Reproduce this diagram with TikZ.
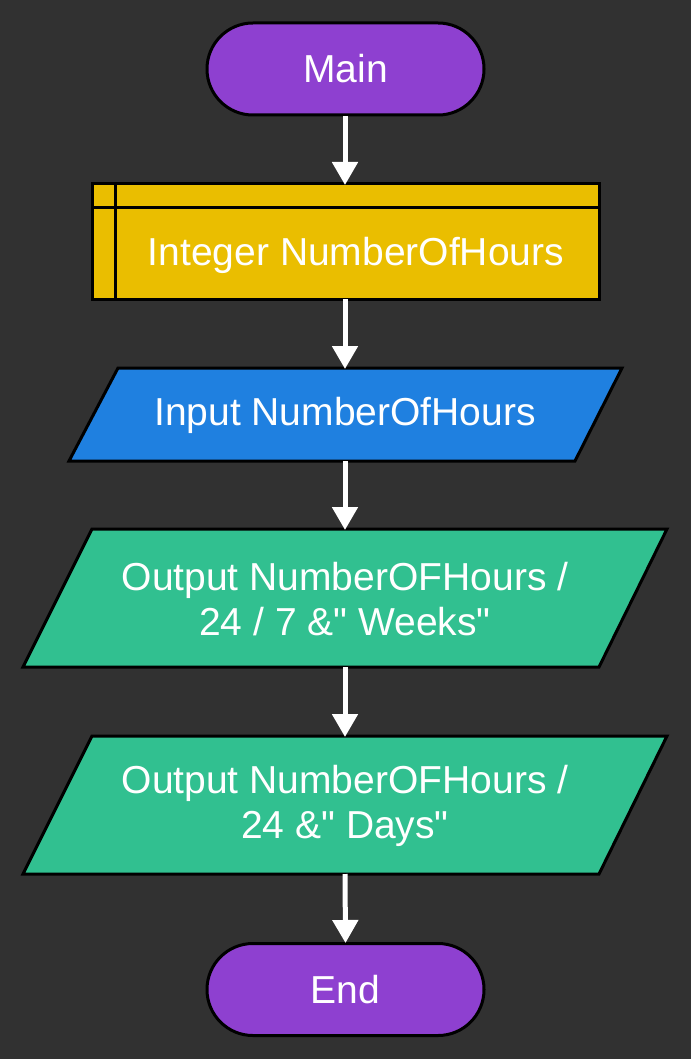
\documentclass[tikz,border=0pt]{standalone}
\usepackage{fontspec}
\setmainfont{Liberation Sans}[Ligatures=TeXOff]
\usetikzlibrary{arrows.meta}
\definecolor{bgc}{RGB}{49,49,49}
\definecolor{termc}{RGB}{142,64,208}
\definecolor{declc}{RGB}{234,190,0}
\definecolor{inc}{RGB}{31,128,224}
\definecolor{outc}{RGB}{49,192,144}
\begin{document}
\begin{tikzpicture}[x=1pt,y=-1pt,
  shapeline/.style={draw=black,line width=3pt,line join=miter},
  txt/.style={text=white,font=\fontsize{39}{45}\selectfont,align=center,inner sep=0pt},
  term/.style={shapeline,txt,fill=termc,minimum width=277pt,minimum height=92pt,rounded corners=45.9pt},
  box/.style={inner sep=0pt,outer sep=0pt},
  flow/.style={draw=white,line width=5pt,-{Triangle[width=25pt,length=23pt]},shorten >=-1pt}]
\useasboundingbox (0,0) rectangle (691,1059);
\fill[bgc] (0,0) rectangle (691,1059);
% Main
\node[term] (main) at (345.5,69) {Main};
% Declaration
\node[box,shapeline,fill=declc,minimum width=507pt,minimum height=115pt] (decl) at (345.5,241.5) {};
\draw[shapeline] ([xshift=23pt]decl.north west) -- ([xshift=23pt]decl.south west);
\draw[shapeline] ([yshift=-24pt]decl.north west) -- ([yshift=-24pt]decl.north east);
\node[txt] (decltxt) at (356,255) {Integer NumberOfHours};
% Input
\path[shapeline,fill=inc] (118,368) -- (622,368) -- (575,461) -- (69,461) -- cycle;
\node[box,minimum width=460pt,minimum height=93pt] (in) at (345.5,414.5) {};
\node[txt] (intxt) at (345,415) {Input NumberOfHours};
% Output 1
\path[shapeline,fill=outc] (92,529) -- (667,529) -- (599,667) -- (23,667) -- cycle;
\node[box,minimum width=500pt,minimum height=138pt] (out1) at (345,598) {};
\node[txt] (out1txt) at (345,599) {Output NumberOFHours /\\24 / 7 \&" Weeks"};
% Output 2
\path[shapeline,fill=outc] (92,736) -- (667,736) -- (599,874) -- (23,874) -- cycle;
\node[box,minimum width=500pt,minimum height=138pt] (out2) at (345,805) {};
\node[txt] (out2txt) at (345,806) {Output NumberOFHours /\\24 \&" Days"};
% End
\node[term] (end) at (345.5,989.5) {End};
% Connectors
\draw[flow] ([xshift=-0.5pt]main.south) -- ([xshift=-0.5pt]decl.north);
\draw[flow] ([xshift=-0.5pt]decl.south) -- ([xshift=-0.5pt]in.north);
\draw[flow] ([xshift=-0.5pt]in.south) -- (out1.north);
\draw[flow] (out1.south) -- (out2.north);
\draw[flow] (out2.south) -- (end.north);
\end{tikzpicture}
\end{document}
